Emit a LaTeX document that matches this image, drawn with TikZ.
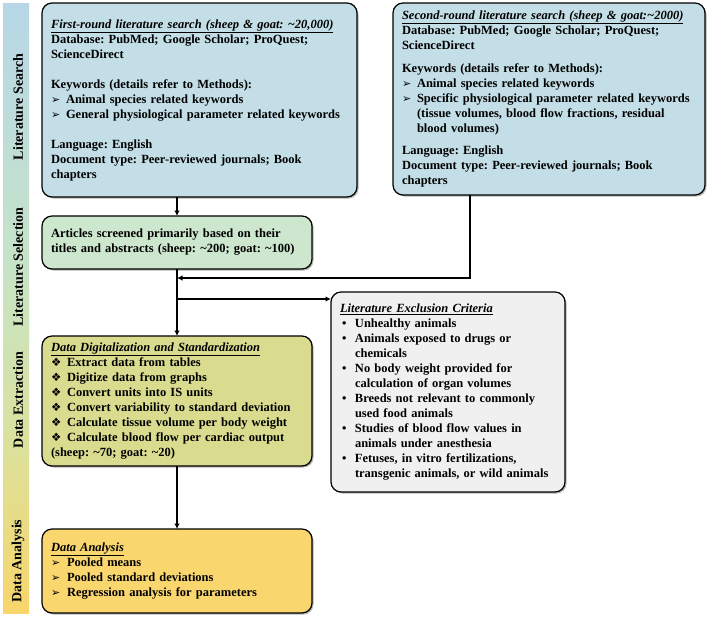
\documentclass[tikz,border=0pt]{standalone}
\usepackage{fontspec}
\setmainfont{Liberation Serif}
\newfontfamily\symfont{DejaVu Sans}
\usetikzlibrary{shadows,arrows.meta}
\definecolor{cBlue}{HTML}{C3DEE6}
\definecolor{cGreen}{HTML}{CDE6CE}
\definecolor{cOlive}{HTML}{D9DC8E}
\definecolor{cGray}{HTML}{F0F0F0}
\definecolor{cGold}{HTML}{F9D66E}
\definecolor{barB}{HTML}{B7D7E8}
\definecolor{barG}{HTML}{C6E3C8}
\definecolor{barYG}{HTML}{D9E2A0}
\definecolor{barY}{HTML}{F8D66C}
\pgfdeclareverticalshading{barshade}{100bp}{color(0bp)=(barY); color(25bp)=(barY); color(40bp)=(barYG); color(54bp)=(barG); color(75bp)=(barB); color(100bp)=(barB)}
\newcommand{\arw}{{\symfont\fontsize{11}{11}\selectfont ➢}}
\newcommand{\dia}{{\symfont\fontsize{11.5}{11.5}\selectfont ❖}}
\newcommand{\bitem}[3][15pt]{\makebox[#1][l]{#2}#3}
\newcommand{\bcont}[1][15pt]{\hspace*{#1}}
\frenchspacing
\begin{document}
\begin{tikzpicture}[x=1pt,y=-1pt,
  box/.style={draw=black, line width=1.2pt, rounded corners=10pt, align=left,
    inner xsep=9pt, inner ysep=0pt, outer sep=0pt,
    font=\fontsize{12.5}{15}\selectfont\bfseries\frenchspacing,
    drop shadow={shadow xshift=1.5pt, shadow yshift=-1.5pt, fill=black!60, opacity=0.5}},
  arr/.style={line width=1.2pt, -{Latex[length=5.5pt,width=5.5pt]}},
  barlabel/.style={rotate=90, font=\fontsize{14}{16}\selectfont\bfseries}]
\useasboundingbox (0,0) rectangle (709,619);
\shade[shading=barshade] (3,3) rectangle (29,613);
\node[barlabel] (l1) at (18,107) {Literature Search};
\node[barlabel] (l2) at (18,267) {Literature Selection};
\node[barlabel] (l3) at (18,400) {Data Extraction};
\node[barlabel] (l4) at (18,561) {Data Analysis};

\node[box, fill=cBlue, minimum width=315pt, minimum height=194pt, text width=297pt] (b1) at (199.5,100) {%
\underline{\textit{First-round literature search (sheep \& goat: \textasciitilde20,000)}}\\
Database: PubMed; Google Scholar; ProQuest;\\
ScienceDirect\\[15pt]
Keywords (details refer to Methods):\\
\bitem{\arw}{Animal species related keywords}\\
\bitem{\arw}{General physiological parameter related keywords}\\[15pt]
Language: English\\
Document type: Peer-reviewed journals; Book\\
chapters};

\node[box, fill=cBlue, minimum width=312pt, minimum height=192pt, text width=294pt] (b2) at (549,99) {%
\underline{\textit{Second-round literature search (sheep \& goat:\textasciitilde2000)}}\\
Database: PubMed; Google Scholar; ProQuest;\\
ScienceDirect\\[7.5pt]
Keywords (details refer to Methods):\\
\bitem{\arw}{Animal species related keywords}\\
\bitem{\arw}{Specific physiological parameter related keywords}\\
\bcont(tissue volumes, blood flow fractions, residual\\
\bcont blood volumes)\\[7.5pt]
Language: English\\
Document type: Peer-reviewed journals; Book\\
chapters};

\node[box, fill=cGreen, minimum width=270pt, minimum height=53pt, text width=252pt] (b3) at (177,242.5) {%
Articles screened primarily based on their\\
titles and abstracts (sheep: \textasciitilde200; goat: \textasciitilde100)};

\node[box, fill=cOlive, minimum width=270pt, minimum height=130pt, text width=252pt] (b4) at (177,401) {%
\underline{\textit{Data Digitalization and Standardization}}\\
\bitem[16pt]{\dia}{Extract data from tables}\\
\bitem[16pt]{\dia}{Digitize data from graphs}\\
\bitem[16pt]{\dia}{Convert units into IS units}\\
\bitem[16pt]{\dia}{Convert variability to standard deviation}\\
\bitem[16pt]{\dia}{Calculate tissue volume per body weight}\\
\bitem[16pt]{\dia}{Calculate blood flow per cardiac output}\\
(sheep: \textasciitilde70; goat: \textasciitilde20)};

\node[box, fill=cGray, minimum width=234pt, minimum height=200pt, text width=216pt] (b5) at (448,392) {%
\underline{\textit{Literature Exclusion Criteria}}\\
\hspace*{2pt}\bitem[13pt]{\textbullet}{Unhealthy animals}\\
\hspace*{2pt}\bitem[13pt]{\textbullet}{Animals exposed to drugs or}\\
\bcont[15pt]chemicals\\
\hspace*{2pt}\bitem[13pt]{\textbullet}{No body weight provided for}\\
\bcont[15pt]calculation of organ volumes\\
\hspace*{2pt}\bitem[13pt]{\textbullet}{Breeds not relevant to commonly}\\
\bcont[15pt]used food animals\\
\hspace*{2pt}\bitem[13pt]{\textbullet}{Studies of blood flow values in}\\
\bcont[15pt]animals under anesthesia\\
\hspace*{2pt}\bitem[13pt]{\textbullet}{Fetuses, in vitro fertilizations,}\\
\bcont[15pt]transgenic animals, or wild animals};

\node[box, fill=cGold, minimum width=270pt, minimum height=84pt, text width=252pt] (b6) at (177,571) {%
\underline{\textit{Data Analysis}}\\
\bitem[16pt]{\arw}{Pooled means}\\
\bitem[16pt]{\arw}{Pooled standard deviations}\\
\bitem[16pt]{\arw}{Regression analysis for parameters}};

\coordinate (c2) at (470,195);
\coordinate (m1) at (177,278);
\coordinate (m2) at (177,299);
\draw[arr] (b1.south -| b3.north) -- (b3.north);
\draw[arr] (b2.south -| c2) |- (m1);
\draw[arr] (b3.south) -- (b4.north);
\draw[arr] (m2) -- (m2 -| b5.west);
\draw[arr] (b4.south) -- (b6.north);
\end{tikzpicture}
\end{document}
